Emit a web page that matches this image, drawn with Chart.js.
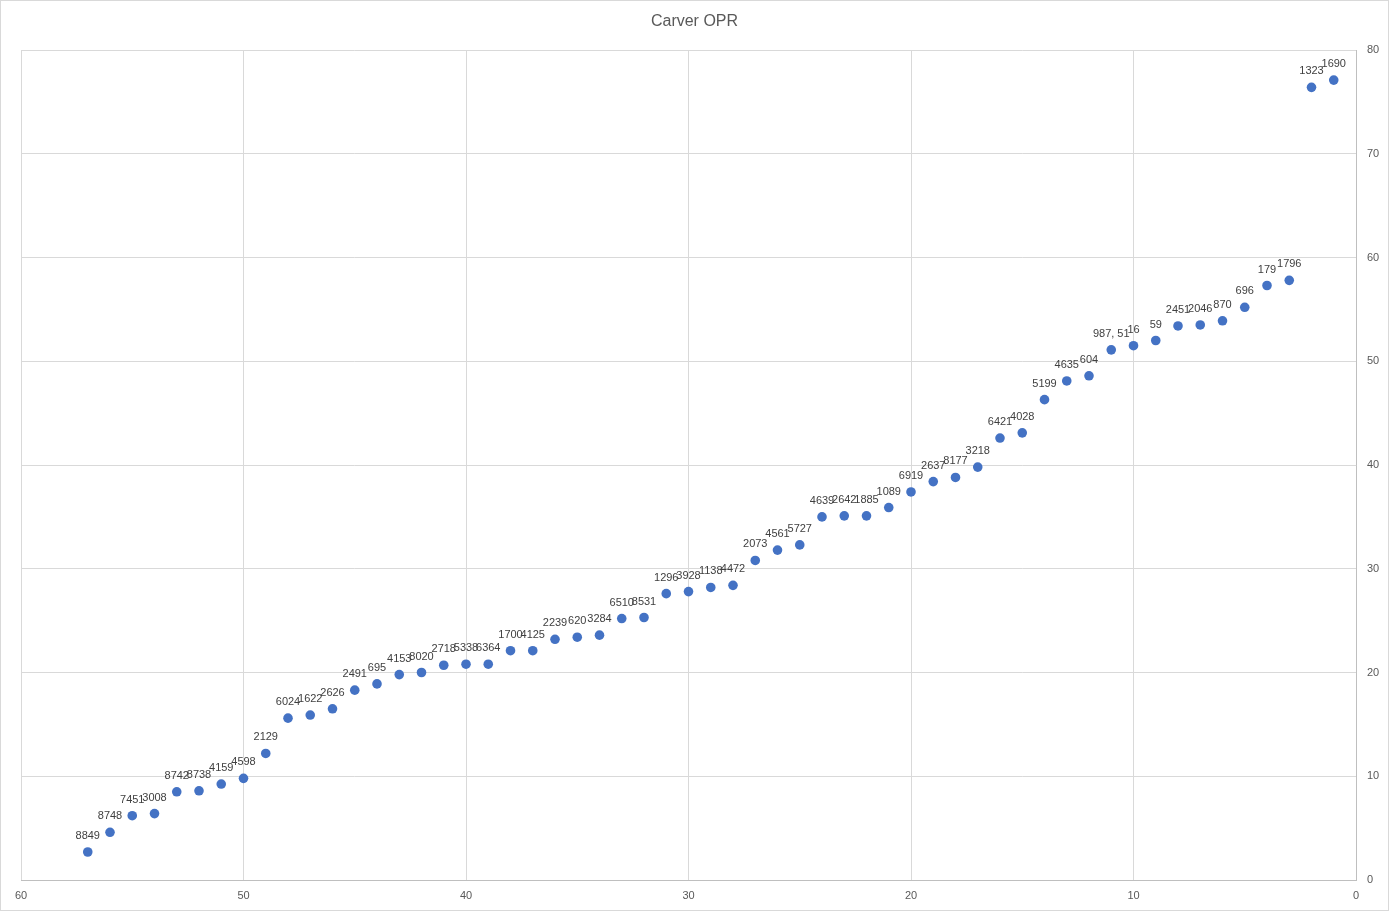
<!DOCTYPE html>
<html lang="en">
<head>
    <meta charset="UTF-8">
    <title>Carver OPR</title>
    <script src="https://cdn.jsdelivr.net/npm/chart.js"></script>
    <style>
        body {
            margin: 0;
            background-color: #ffffff;
        }
        #chartBox {
            width: 1389px;
            height: 912px;
        }
    </style>
</head>
<body>
    <div id="chartBox">
        <canvas id="oprChart"></canvas>
    </div>

    <script>
        // rank (x), OPR (y) and team number label for each point
        const ranks = [1, 2, 3, 4, 5, 6, 7, 8, 9, 10,
            11, 12, 13, 14, 15, 16, 17, 18, 19, 20,
            21, 22, 23, 24, 25, 26, 27, 28, 29, 30,
            31, 32, 33, 34, 35, 36, 37, 38, 39, 40,
            41, 42, 43, 44, 45, 46, 47, 48, 49, 50,
            51, 52, 53, 54, 55, 56, 57];
        const oprValues = [77.1, 76.4, 57.8, 57.3, 55.2, 53.9, 53.5, 53.4, 52.0, 51.5,
            51.1, 48.6, 48.1, 46.3, 43.1, 42.6, 39.8, 38.8, 38.4, 37.4,
            35.9, 35.1, 35.1, 35.0, 32.3, 31.8, 30.8, 28.4, 28.2, 27.8,
            27.6, 25.3, 25.2, 23.6, 23.4, 23.2, 22.1, 22.1, 20.8, 20.8,
            20.7, 20.0, 19.8, 18.9, 18.3, 16.5, 15.9, 15.6, 12.2, 9.8,
            9.25, 8.6, 8.5, 6.4, 6.2, 4.6, 2.7];
        const teamLabels = ['1690', '1323', '1796', '179', '696', '870', '2046', '2451', '59', '16',
            '987, 51', '604', '4635', '5199', '4028', '6421', '3218', '8177', '2637', '6919',
            '1089', '1885', '2642', '4639', '5727', '4561', '2073', '4472', '1138', '3928',
            '1296', '8531', '6510', '3284', '620', '2239', '4125', '1700', '6364', '5338',
            '2718', '8020', '4153', '695', '2491', '2626', '1622', '6024', '2129', '4598',
            '4159', '8738', '8742', '3008', '7451', '8748', '8849'];
        const chartTitle = 'Carver OPR';

        const points = ranks.map((r, i) => ({ x: r, y: oprValues[i] }));

        // white background, thin outer frame and the title centred on the whole canvas
        const frame = {
            id: 'frame',
            beforeDraw(chart) {
                const c = chart.ctx;
                c.save();
                c.fillStyle = '#ffffff';
                c.fillRect(0, 0, chart.width, chart.height);
                c.strokeStyle = '#d9d9d9';
                c.lineWidth = 1;
                c.strokeRect(0.5, 0.5, chart.width - 1, chart.height - 2);
                c.font = '16px "Liberation Sans", Arial, sans-serif';
                c.fillStyle = '#595959';
                c.textAlign = 'center';
                c.textBaseline = 'middle';
                c.fillText(chartTitle, chart.width / 2, 22);
                c.restore();
            }
        };

        // team numbers above each point
        const pointLabels = {
            id: 'pointLabels',
            afterDatasetsDraw(chart) {
                const c = chart.ctx;
                const meta = chart.getDatasetMeta(0);
                c.save();
                c.font = '11px "Liberation Sans", Arial, sans-serif';
                c.fillStyle = '#404040';
                c.textAlign = 'center';
                c.textBaseline = 'middle';
                meta.data.forEach((el, i) => {
                    c.fillText(teamLabels[i], el.x, el.y - 16);
                });
                c.restore();
            }
        };

        const tickFont = { family: '"Liberation Sans", Arial, sans-serif', size: 11 };

        new Chart(document.getElementById('oprChart'), {
            type: 'scatter',
            data: {
                datasets: [{
                    label: 'OPR',
                    data: points,
                    backgroundColor: '#4472c4',
                    borderWidth: 0,
                    pointRadius: 4.8,
                    pointHoverRadius: 4.8
                }]
            },
            options: {
                responsive: true,
                maintainAspectRatio: false,
                animation: false,
                layout: {
                    padding: { left: 21, right: 0, top: 50, bottom: 0 }
                },
                plugins: {
                    legend: { display: false },
                    tooltip: { enabled: false },
                    title: { display: false }
                },
                scales: {
                    x: {
                        type: 'linear',
                        reverse: true,
                        min: 0,
                        max: 60,
                        afterFit(scale) { scale.height = 32; },
                        ticks: {
                            stepSize: 10,
                            color: '#595959',
                            font: tickFont,
                            padding: 9,
                            maxRotation: 0
                        },
                        grid: { color: '#d9d9d9', drawTicks: false },
                        border: { color: '#bfbfbf' }
                    },
                    y: {
                        position: 'right',
                        min: 0,
                        max: 80,
                        afterFit(scale) { scale.width = 33; },
                        ticks: {
                            stepSize: 10,
                            color: '#595959',
                            font: tickFont,
                            padding: 11
                        },
                        grid: { color: '#d9d9d9', drawTicks: false },
                        border: { color: '#bfbfbf' }
                    }
                }
            },
            plugins: [frame, pointLabels]
        });
    </script>
</body>
</html>
